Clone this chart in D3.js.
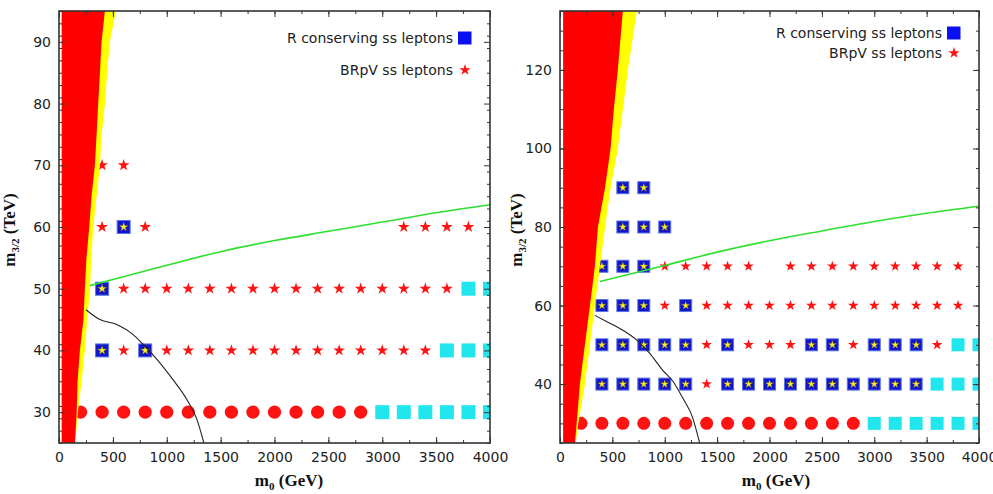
<!DOCTYPE html>
<html>
<head>
<meta charset="utf-8">
<script src="https://cdn.jsdelivr.net/npm/d3@7"></script>
<style>
body { margin: 0; background: #fff; }
</style>
</head>
<body>
<div id="chart-area"></div>
<script>
// grid of scanned points: m0 (GeV) columns, m3/2 (TeV) rows
const m0Grid = [200, 400, 600, 800, 1000, 1200, 1400, 1600, 1800, 2000,
                2200, 2400, 2600, 2800, 3000, 3200, 3400, 3600, 3800, 4000];

// o = red circle, c = cyan square, b = R conserving ss leptons (blue square + star),
// * = BRpV ss leptons, . = nothing
const leftRows  = [30, 40, 50, 60, 70];
const leftCodes = ["oooooooooooooocccccc",
                   ".b*b*************ccc",
                   ".b****************cc",
                   ".*b*...........****.",
                   ".**................."];

const rightRows  = [30, 40, 50, 60, 70, 80, 90];
const rightCodes = ["oooooooooooooocccccc",
                    ".bbbbb*bbbbbbbbbbccc",
                    ".bbbbb*b***bb*bbb*cc",
                    ".bbb*b*************.",
                    ".bbb*****.*********.",
                    "..bbb...............",
                    "..bb................"];

// excluded regions (red) and band (yellow): m0 edge at each m3/2
const leftBandM32   = [25, 30, 35, 40, 45, 50, 55, 60, 65, 70, 75, 80, 85, 90, 95];
const leftRedEdge   = [148, 164, 172, 194, 227, 240, 255, 281, 302, 333, 349, 364, 380, 395, 426];
const leftYellowEdge= [150, 175, 210, 240, 262, 287, 300, 318, 349, 380, 395, 426, 447, 472, 528];

const rightBandM32   = [25, 30, 40, 50, 60, 70, 80, 90, 100, 110, 120, 135];
const rightRedEdge   = [143, 159, 190, 238, 286, 333, 362, 430, 483, 514, 552, 600];
const rightYellowEdge= [150, 175, 238, 286, 333, 381, 430, 483, 552, 600, 648, 733];

// green line
const leftGreenM0   = [287, 500, 1000, 1500, 2000, 2500, 3000, 3500, 4000];
const leftGreenM32  = [50.5, 51.5, 53.8, 56.0, 57.8, 59.3, 60.8, 62.3, 63.6];
const rightGreenM0  = [381, 1000, 1500, 2000, 2500, 3000, 3500, 4000];
const rightGreenM32 = [66.1, 70.2, 73.6, 76.5, 79.0, 81.4, 83.5, 85.3];

// black curve
const leftCurveM0   = [250, 380, 537, 685, 780, 907, 1056, 1185, 1278, 1345];
const leftCurveM32  = [46.6, 45.0, 44.2, 42.6, 41.0, 38.6, 35.3, 32.1, 28.9, 25.0];
const rightCurveM0  = [333, 448, 600, 733, 857, 981, 1076, 1171, 1267, 1333];
const rightCurveM32 = [57.5, 55.9, 53.7, 51.2, 47.8, 43.5, 40.8, 36.5, 31.4, 25.0];

// tick labels
const xTicks = [0, 500, 1000, 1500, 2000, 2500, 3000, 3500, 4000];
const leftYTicks = [30, 40, 50, 60, 70, 80, 90];
const rightYTicks = [40, 60, 80, 100, 120];

const legendNames = ["R conserving ss leptons", "BRpV ss leptons"];

const svg = d3.select("#chart-area")
    .append("svg")
    .attr("width", 993)
    .attr("height", 494);

const defs = svg.append("defs");

const panels = [
  { id: "left", x0: 59, x1: 490, y0: 11, y1: 443, yDomain: [25, 95], yTicks: leftYTicks, yMinor: 2,
    rows: leftRows, codes: leftCodes, band: leftBandM32, red: leftRedEdge, yellow: leftYellowEdge, redStart: 25,
    greenM0: leftGreenM0, greenM32: leftGreenM32, curveM0: leftCurveM0, curveM32: leftCurveM32,
    circleR: 6.6, sq: 14, bsq: 13, starR: 6.2, bstarR: 4.8,
    legY: [27, 59], yTitleX: 15, xTitleX: 289 },
  { id: "right", x0: 560, x1: 979, y0: 11, y1: 443, yDomain: [25, 135], yTicks: rightYTicks, yMinor: 5,
    rows: rightRows, codes: rightCodes, band: rightBandM32, red: rightRedEdge, yellow: rightYellowEdge, redStart: 30,
    greenM0: rightGreenM0, greenM32: rightGreenM32, curveM0: rightCurveM0, curveM32: rightCurveM32,
    circleR: 6.5, sq: 13, bsq: 12, starR: 5.6, bstarR: 4.4,
    legY: [22, 42], yTitleX: 522, xTitleX: 776 }
];

const ka = 0.8908130915292852;
function starPath(R) { return d3.symbol(d3.symbolStar, R * R / ka)(); }

panels.forEach(p => {
  const w = p.x1 - p.x0, h = p.y1 - p.y0;
  const x = d3.scaleLinear().domain([0, 4000]).range([0, w]);
  const y = d3.scaleLinear().domain(p.yDomain).range([h, 0]);

  const g = svg.append("g").attr("transform", "translate(" + p.x0 + "," + p.y0 + ")");

  defs.append("clipPath").attr("id", "clip-" + p.id)
    .append("rect").attr("width", w).attr("height", h);

  const plot = g.append("g").attr("clip-path", "url(#clip-" + p.id + ")");

  // points
  const pts = [];
  p.rows.forEach((m32, i) => {
    m0Grid.forEach((m0, j) => {
      const c = p.codes[i][j];
      if (c !== ".") pts.push({ m0: m0, m32: m32, code: c });
    });
  });

  plot.selectAll("circle.pt")
    .data(pts.filter(d => d.code === "o"))
    .enter().append("circle")
      .attr("cx", d => x(d.m0))
      .attr("cy", d => y(d.m32))
      .attr("r", p.circleR)
      .attr("fill", "#ff1212");

  plot.selectAll("rect.cyan")
    .data(pts.filter(d => d.code === "c"))
    .enter().append("rect")
      .attr("x", d => x(d.m0) - p.sq / 2)
      .attr("y", d => y(d.m32) - p.sq / 2)
      .attr("width", p.sq)
      .attr("height", p.sq)
      .attr("fill", "#22e6ee");

  const blue = plot.selectAll("g.blue")
    .data(pts.filter(d => d.code === "b"))
    .enter().append("g")
      .attr("transform", d => "translate(" + x(d.m0) + "," + y(d.m32) + ")");
  blue.append("rect")
    .attr("x", -p.bsq / 2).attr("y", -p.bsq / 2)
    .attr("width", p.bsq).attr("height", p.bsq)
    .attr("fill", "#1014cc")
    .attr("stroke", "#5a74e6")
    .attr("stroke-width", 1);
  blue.append("path")
    .attr("d", starPath(p.bstarR))
    .attr("fill", "#ffee22")
    .attr("stroke", "#5a5a20")
    .attr("stroke-width", 0.4);

  plot.selectAll("path.rstar")
    .data(pts.filter(d => d.code === "*"))
    .enter().append("path")
      .attr("transform", d => "translate(" + x(d.m0) + "," + y(d.m32) + ")")
      .attr("d", starPath(p.starR))
      .attr("fill", "#ff1212");

  // excluded regions
  const area = d3.area()
    .y(d => y(d[0]))
    .x0(x(p.redStart))
    .x1(d => x(d[1]));
  plot.append("path").datum(d3.zip(p.band, p.yellow)).attr("d", area).attr("fill", "#ffff00");
  plot.append("path").datum(d3.zip(p.band, p.red)).attr("d", area).attr("fill", "#ff0000");

  // lines
  const line = d3.line().x(d => x(d[0])).y(d => y(d[1]));
  plot.append("path")
    .datum(d3.zip(p.greenM0, p.greenM32))
    .attr("d", line.curve(d3.curveMonotoneX))
    .attr("fill", "none")
    .attr("stroke", "#2ee02e")
    .attr("stroke-width", 1.6);
  plot.append("path")
    .datum(d3.zip(p.curveM0, p.curveM32))
    .attr("d", line.curve(d3.curveMonotoneX))
    .attr("fill", "none")
    .attr("stroke", "#222")
    .attr("stroke-width", 1.1);

  // axes
  const xMinor = d3.range(0, 4001, 250);
  const yMinor = d3.range(p.yDomain[0], p.yDomain[1] + 0.01, p.yMinor);

  function styleAxis(sel) {
    sel.select(".domain").remove();
    sel.selectAll("line").attr("stroke", "#333");
    sel.selectAll("text")
      .attr("fill", "#222")
      .style("font-family", "'DejaVu Sans', sans-serif")
      .style("font-size", "14px");
  }

  g.append("g").attr("transform", "translate(0," + h + ")")
    .call(d3.axisBottom(x).tickValues(xMinor).tickSize(-3).tickFormat("")).call(styleAxis);
  g.append("g").attr("transform", "translate(0," + h + ")")
    .call(d3.axisBottom(x).tickValues(xTicks).tickSize(-6).tickPadding(9).tickFormat(d3.format("d"))).call(styleAxis);
  g.append("g")
    .call(d3.axisTop(x).tickValues(xMinor).tickSize(-3).tickFormat("")).call(styleAxis);
  g.append("g")
    .call(d3.axisTop(x).tickValues(xTicks).tickSize(-6).tickFormat("")).call(styleAxis);

  g.append("g")
    .call(d3.axisLeft(y).tickValues(yMinor).tickSize(-3).tickFormat("")).call(styleAxis);
  g.append("g")
    .call(d3.axisLeft(y).tickValues(p.yTicks).tickSize(-6).tickPadding(8).tickFormat(d3.format("d"))).call(styleAxis);
  g.append("g").attr("transform", "translate(" + w + ",0)")
    .call(d3.axisRight(y).tickValues(yMinor).tickSize(-3).tickFormat("")).call(styleAxis);
  g.append("g").attr("transform", "translate(" + w + ",0)")
    .call(d3.axisRight(y).tickValues(p.yTicks).tickSize(-6).tickFormat("")).call(styleAxis);

  // frame
  g.append("rect")
    .attr("width", w).attr("height", h)
    .attr("fill", "none")
    .attr("stroke", "#333")
    .attr("stroke-width", 1.6);

  // legend
  const leg = g.append("g").attr("class", "legend");
  leg.selectAll("text")
    .data(legendNames)
    .enter().append("text")
      .attr("x", w - 37)
      .attr("y", (d, i) => p.legY[i])
      .attr("dy", "0.35em")
      .attr("text-anchor", "end")
      .attr("fill", "#222")
      .style("font-family", "'DejaVu Sans', sans-serif")
      .style("font-size", "14px")
      .text(d => d);
  leg.append("rect")
    .attr("x", w - 32).attr("y", p.legY[0] - 6.5)
    .attr("width", 13.5).attr("height", 13)
    .attr("fill", "#0a10f2");
  leg.append("path")
    .attr("transform", "translate(" + (w - 25) + "," + p.legY[1] + ")")
    .attr("d", starPath(6))
    .attr("fill", "#ff1212");

  // axis titles
  const yt = svg.append("text")
    .attr("transform", "translate(" + p.yTitleX + "," + ((p.y0 + p.y1) / 2 + 3) + ") rotate(-90)")
    .attr("text-anchor", "middle")
    .attr("fill", "#111")
    .style("font-family", "'Liberation Serif', 'DejaVu Serif', serif")
    .style("font-weight", "bold")
    .style("font-size", "17px");
  yt.append("tspan").text("m");
  yt.append("tspan").attr("dy", 4).style("font-size", "11px").text("3/2");
  yt.append("tspan").attr("dy", -4).text(" (TeV)");

  const xt = svg.append("text")
    .attr("x", p.xTitleX)
    .attr("y", 486)
    .attr("text-anchor", "middle")
    .attr("fill", "#111")
    .style("font-family", "'Liberation Serif', 'DejaVu Serif', serif")
    .style("font-weight", "bold")
    .style("font-size", "17px");
  xt.append("tspan").text("m");
  xt.append("tspan").attr("dy", 4).style("font-size", "11px").text("0");
  xt.append("tspan").attr("dy", -4).text(" (GeV)");
});
</script>
</body>
</html>
